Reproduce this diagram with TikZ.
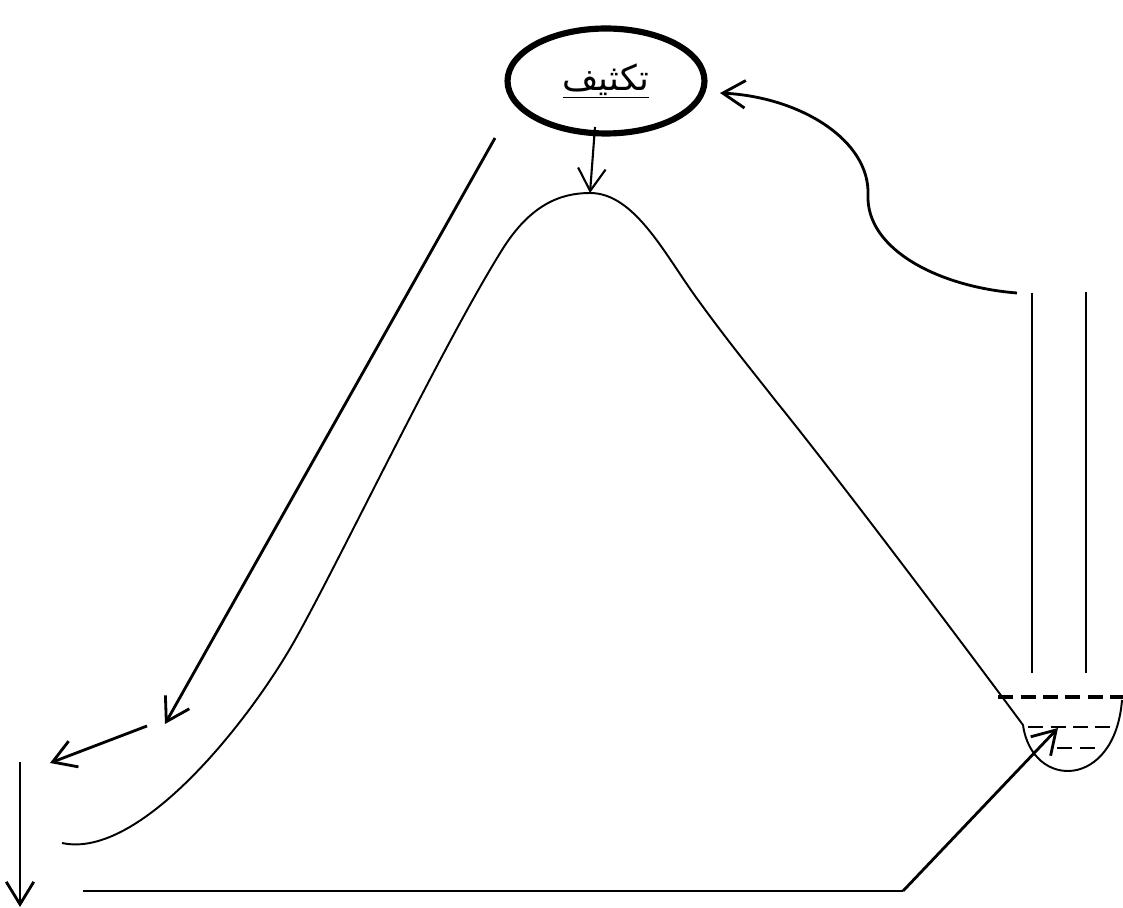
\documentclass[tikz,border=0pt]{standalone}
\usepackage{fontspec}
\newfontfamily\arabicfont[Script=Arabic]{DejaVu Sans}
\TeXXeTstate=1
\usepackage{tikz}
\usetikzlibrary{
  arrows.meta,
  shapes.geometric
}
\tikzset{
  arr/.style={-{Straight Barb[length=0.45cm, width=0.55cm]}, line width=1.6pt},
  slope/.style={line width=1.1pt},
  pipe/.style={line width=0.9pt},
}

\begin{document}
\begin{tikzpicture}[
  x=0.02cm, y=-0.02cm,
  cloud/.style={draw, ellipse, line width=3.5pt, inner sep=0pt,
    minimum width=3.94cm, minimum height=2.1cm},
  water/.style={dashed, dash pattern=on 0.3cm off 0.15cm}
]
  \useasboundingbox (0,0) rectangle (1123,908);

  % Condensation
  \node[cloud] (cond) at (606,81)
    {\fontsize{20}{24}\selectfont\underline{\arabicfont\beginR تكثيف\endR}};

  % Points
  \coordinate (peak) at (590,193);
  \coordinate (condout) at (595,127);
  \coordinate (condin) at (720,93);
  \coordinate (rain1) at (495,138);
  \coordinate (rain2) at (165,724);
  \coordinate (run1) at (147,726);
  \coordinate (run2) at (50,763);
  \coordinate (down1) at (20,762);
  \coordinate (down2) at (20,907);
  \coordinate (flow1) at (83,891);
  \coordinate (flow2) at (903,891);
  \coordinate (sea) at (1058,728);
  \coordinate (vap) at (1017,293);
  \coordinate (pipeL1) at (1032,293);
  \coordinate (pipeL2) at (1032,673);
  \coordinate (pipeR1) at (1086,292);
  \coordinate (pipeR2) at (1086,673);

  % Mountain and basin
  \draw[slope] (62,843) .. controls (140,860) and (250,720) .. (295,640)
    .. controls (340,560) and (442,346) .. (502,250)
    .. controls (530,205) and (560,193) .. (peak)
    .. controls (635,193) and (665,255) .. (698,300)
    .. controls (730,344) and (750,368) .. (775,400)
    .. controls (835,474) and (960,640) .. (1023,725)
    .. controls (1032,790) and (1115,790) .. (1122,700);

  % Water levels
  \draw[water, line width=1.8pt] (998,697) -- (1123,697);
  \draw[water, line width=1pt] (1028,727) -- (1115,727);
  \draw[water, line width=1pt] (1057,748) -- (1098,748);

  % Pipe
  \draw[pipe] (pipeL1) -- (pipeL2);
  \draw[pipe, line width=1.4pt] (pipeR1) -- (pipeR2);

  % Arrows
  \draw[arr, line width=1.2pt] (condout) -- (peak);
  \draw[arr] (rain1) -- (rain2);
  \draw[arr] (run1) -- (run2);
  \draw[arr] (down1) -- (down2);
  \draw[arr, -] (flow1) -- (flow2);
  \draw[arr] (flow2) -- (sea);
  \draw[arr] (vap) .. controls (940,287) and (866,250) .. (868,195)
    .. controls (870,140) and (800,97) .. (condin);
\end{tikzpicture}
\end{document}
